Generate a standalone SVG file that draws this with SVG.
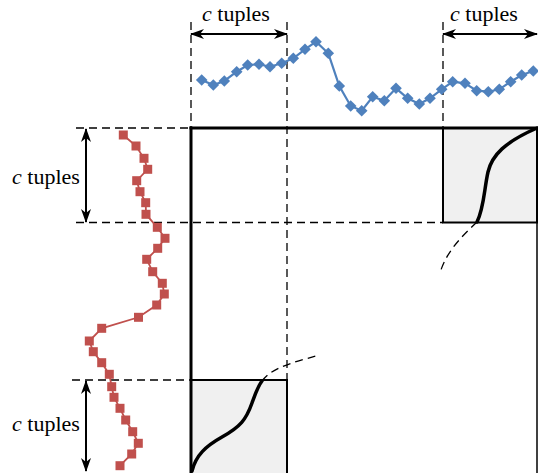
<svg xmlns="http://www.w3.org/2000/svg" width="538" height="473" viewBox="0 0 538 473">
<style>
.lbl{font-family:"Liberation Serif","Times New Roman",serif;font-size:22px;fill:#000}
.dash{stroke:#000;stroke-width:1.3;stroke-dasharray:8,5;fill:none}
.box{fill:#f0f0f0;stroke:#000;stroke-width:2}
.arr{stroke:#000;stroke-width:2;fill:none;marker-start:url(#ah);marker-end:url(#ah)}
.curve{stroke:#000;stroke-width:3.5;fill:none;stroke-linecap:round}
.blue{stroke:#4f81bd;stroke-width:2.2;fill:none}
.red{stroke:#c0504d;stroke-width:1.8;fill:none}
</style>
<defs>
<marker id="ah" viewBox="0 0 14 10" refX="13" refY="5" markerWidth="14" markerHeight="10" markerUnits="userSpaceOnUse" orient="auto-start-reverse">
<path d="M0,0 L14,5 L0,10 L4,5 z" fill="#000"/>
</marker>
<path id="dm" d="M0,-5.8 L5.8,0 L0,5.8 L-5.8,0 z" fill="#4f81bd"/>
<rect id="sq" x="-4.5" y="-4.5" width="9" height="9" fill="#c0504d"/>
</defs>
<rect width="538" height="473" fill="#fff"/>
<g id="guides">
<line class="dash" x1="191" y1="22" x2="191" y2="128"/>
<line class="dash" x1="287" y1="22" x2="287" y2="380"/>
<line class="dash" x1="443" y1="22" x2="443" y2="128"/>
<line class="dash" x1="76" y1="128" x2="191" y2="128"/>
<line class="dash" x1="76" y1="222.5" x2="443" y2="222.5"/>
<line class="dash" x1="72" y1="380" x2="191" y2="380"/>
</g>
<g id="matrix">
<rect id="box-top-right" class="box" x="443" y="128" width="94" height="94.5"/>
<rect id="box-bottom-left" class="box" x="191" y="380" width="96" height="100"/>
<line x1="537" y1="128" x2="537" y2="473" stroke="#000" stroke-width="1.5"/>
<line x1="189.5" y1="128" x2="538" y2="128" stroke="#000" stroke-width="3"/>
<line x1="191" y1="126.5" x2="191" y2="473" stroke="#000" stroke-width="3"/>
</g>
<g id="curves">
<path class="curve" d="M537,128 C505,142 492,155 488,172 C484,190 484,208 477,222"/>
<path class="dash" d="M477,222 C462,236 446,252 440,273"/>
<path class="curve" d="M192,471 C196,455 206,446 222,437 C240,427 246,420 252,403 C256,392 258,386 262,381"/>
<path class="dash" d="M262,381 C270,370 285,364 320,355"/>
</g>
<g id="connectors">
<line class="arr" x1="191" y1="34" x2="287" y2="34"/>
<line class="arr" x1="443" y1="34" x2="537" y2="34"/>
<line class="arr" x1="86" y1="129" x2="86" y2="222"/>
<line class="arr" x1="86" y1="381" x2="86" y2="471"/>
</g>
<g id="labels">
<text class="lbl" x="202" y="21"><tspan font-style="italic">c</tspan> tuples</text>
<text class="lbl" x="450" y="21"><tspan font-style="italic">c</tspan> tuples</text>
<text class="lbl" x="12" y="184"><tspan font-style="italic">c</tspan> tuples</text>
<text class="lbl" x="12" y="431"><tspan font-style="italic">c</tspan> tuples</text>
</g>
<g id="series-blue">
<polyline class="blue" points="201.7,80 213.3,85 224.3,81 236.7,71.7 247.7,65 259,64.3 270,66.7 281.7,63.3 293.3,58.3 305,49.3 316,41.7 328.3,53.3 339.3,86 350.7,106 361.7,110.7 372.7,96.7 384.3,100.7 396,88.3 407.7,98.3 419.3,104 430,98.3 441.7,89.3 452.7,81.7 465,83.3 476.7,90.7 488.3,91.7 499.3,89.3 510.7,81.7 521.7,75 533.3,71"/>
<use href="#dm" x="201.7" y="80"/><use href="#dm" x="213.3" y="85"/><use href="#dm" x="224.3" y="81"/><use href="#dm" x="236.7" y="71.7"/><use href="#dm" x="247.7" y="65"/><use href="#dm" x="259" y="64.3"/><use href="#dm" x="270" y="66.7"/><use href="#dm" x="281.7" y="63.3"/><use href="#dm" x="293.3" y="58.3"/><use href="#dm" x="305" y="49.3"/><use href="#dm" x="316" y="41.7"/><use href="#dm" x="328.3" y="53.3"/><use href="#dm" x="339.3" y="86"/><use href="#dm" x="350.7" y="106"/><use href="#dm" x="361.7" y="110.7"/><use href="#dm" x="372.7" y="96.7"/><use href="#dm" x="384.3" y="100.7"/><use href="#dm" x="396" y="88.3"/><use href="#dm" x="407.7" y="98.3"/><use href="#dm" x="419.3" y="104"/><use href="#dm" x="430" y="98.3"/><use href="#dm" x="441.7" y="89.3"/><use href="#dm" x="452.7" y="81.7"/><use href="#dm" x="465" y="83.3"/><use href="#dm" x="476.7" y="90.7"/><use href="#dm" x="488.3" y="91.7"/><use href="#dm" x="499.3" y="89.3"/><use href="#dm" x="510.7" y="81.7"/><use href="#dm" x="521.7" y="75"/><use href="#dm" x="533.3" y="71"/>
</g>
<g id="series-red">
<polyline class="red" points="123.3,135 136,146 144,158.3 147.7,169.3 136.7,180.7 140,191.7 145.7,202.7 146,214.3 157.3,227.3 165,238.3 157.7,248.3 146.7,259.3 152.7,271.7 162.3,283.3 164.3,294 156.7,305 138.5,317.3 101.7,328.3 89.3,341 93.3,351.7 101.7,362.7 109.3,374.3 111.7,386.7 114,397.3 120,408.3 125.7,420 132.7,431.7 138.3,443.3 131.7,454 120,465.7"/>
<use href="#sq" x="123.3" y="135"/><use href="#sq" x="136" y="146"/><use href="#sq" x="144" y="158.3"/><use href="#sq" x="147.7" y="169.3"/><use href="#sq" x="136.7" y="180.7"/><use href="#sq" x="140" y="191.7"/><use href="#sq" x="145.7" y="202.7"/><use href="#sq" x="146" y="214.3"/><use href="#sq" x="157.3" y="227.3"/><use href="#sq" x="165" y="238.3"/><use href="#sq" x="157.7" y="248.3"/><use href="#sq" x="146.7" y="259.3"/><use href="#sq" x="152.7" y="271.7"/><use href="#sq" x="162.3" y="283.3"/><use href="#sq" x="164.3" y="294"/><use href="#sq" x="156.7" y="305"/><use href="#sq" x="138.5" y="317.3"/><use href="#sq" x="101.7" y="328.3"/><use href="#sq" x="89.3" y="341"/><use href="#sq" x="93.3" y="351.7"/><use href="#sq" x="101.7" y="362.7"/><use href="#sq" x="109.3" y="374.3"/><use href="#sq" x="111.7" y="386.7"/><use href="#sq" x="114" y="397.3"/><use href="#sq" x="120" y="408.3"/><use href="#sq" x="125.7" y="420"/><use href="#sq" x="132.7" y="431.7"/><use href="#sq" x="138.3" y="443.3"/><use href="#sq" x="131.7" y="454"/><use href="#sq" x="120" y="465.7"/>
</g>
</svg>
